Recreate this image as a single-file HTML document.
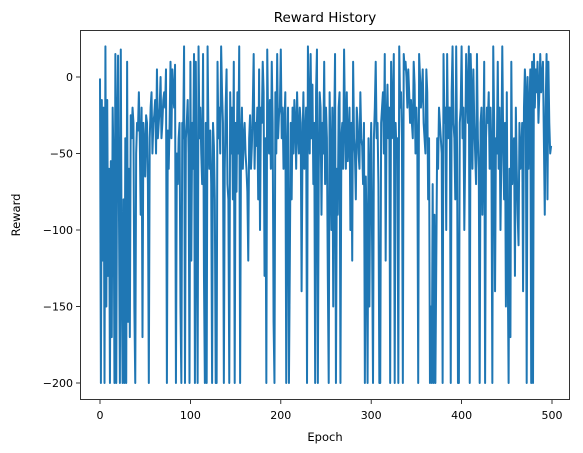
<!DOCTYPE html>
<html><head><meta charset="utf-8"><style>
html,body{margin:0;padding:0;background:#fff;}
svg{display:block;font-family:"DejaVu Sans","Liberation Sans",sans-serif;}
</style></head><body>
<svg id="chart" width="583" height="453">
<rect width="583" height="453" fill="#fff"/>
<text x="325" y="22" font-size="13.5" text-anchor="middle" fill="#000">Reward History</text>
<g id="axes"></g>
<g id="series"></g>
<rect x="80.5" y="30.5" width="489" height="369" fill="none" stroke="#000" stroke-width="0.8"/>
<text x="325" y="441" font-size="11.5" text-anchor="middle">Epoch</text>
<text x="20" y="215" font-size="11.5" text-anchor="middle" transform="rotate(-90 20 215)">Reward</text>
</svg>
<script>
const rewards = [
-1,-200,-15,-120,-20,-200,20,-150,-15,-130,
-60,-200,-55,-170,-20,-60,-200,15,-200,-30,
14,-90,-200,18,-130,-200,-80,-200,-40,-200,
10,-160,-60,-170,-25,-40,-20,-30,-150,-200,
-50,-30,-35,-10,-40,-90,-20,-170,-30,-45,
-65,-25,-30,-70,-200,-40,-20,-10,-50,-30,
-25,-15,-50,5,-40,-30,-20,0,-40,-30,
-15,-10,-20,5,-200,-35,-60,-30,10,-40,
5,-10,-20,8,-200,-50,-70,-40,-30,-150,
-200,-30,-40,20,-200,-40,-30,-15,-50,-200,
10,-120,-30,-60,15,-200,10,-90,-200,20,
-40,-20,-50,-70,15,-130,-200,-30,-200,20,
-40,-60,-35,-70,-200,-30,-45,-80,-200,-200,
10,-40,-20,-50,20,-10,-30,-200,-60,-20,
5,-70,-80,-200,-10,-50,-20,-80,10,-200,
-30,-75,-10,-50,20,-200,-40,-20,-60,-40,
-30,-50,-60,-75,-120,-40,-25,-60,-45,-20,
15,-60,-30,-45,-20,-80,5,-100,-20,-30,
10,-10,-130,-40,-200,18,-30,-50,-15,-60,
10,-30,-160,-200,-10,-50,15,-40,-25,-20,
18,-40,-20,-60,-30,-10,-200,-50,-20,-200,
-120,-30,-80,-20,-50,-15,-30,-60,-10,-35,
-50,-20,-30,-140,-45,-10,-60,-40,-20,-200,
20,-20,-50,15,-40,-5,-70,-30,-200,-10,
18,-200,-60,-10,-20,-90,-30,-50,10,-70,
-20,-40,-130,-200,-10,-50,-100,-20,-150,-40,
15,-200,-60,-90,-20,-10,-200,-40,-30,-60,
18,-30,-60,-10,-55,-40,-20,-100,-30,-120,
10,-40,-50,-80,-20,-30,-50,-60,-10,-40,
-45,-70,-30,-200,-65,-100,-200,-40,-150,-60,
-30,-110,-200,-40,-20,10,-40,-30,-70,-200,
-200,-30,-20,-10,-50,15,-120,-30,-5,-40,
-20,-200,10,-40,-20,15,-200,-30,-50,-40,
-200,20,-20,-10,-40,-200,15,5,10,0,
-20,5,-10,-30,-15,-30,-40,10,-5,-50,
-20,-40,-200,15,0,-20,-10,5,-30,-40,
-50,5,-10,-80,-40,-200,-150,-200,-70,-200,
-90,-200,-120,-40,-60,-20,-30,-40,-50,-200,
15,-30,-20,-100,15,-40,-20,-20,-200,-10,
20,-30,-40,-80,20,-50,-200,-200,-30,-20,
20,-40,-20,-100,-50,15,-10,-30,20,-200,
15,-10,-60,5,-30,-50,-70,15,-40,-60,
-200,-30,-20,-90,-50,10,-200,-40,-20,-30,
-10,-60,-20,-50,-200,20,-30,-140,-40,-50,
10,-60,-20,-100,-50,20,-40,-80,-30,-150,
-10,-120,-200,-60,-170,10,-70,-50,-40,-130,
-20,-60,-90,-110,-30,-60,-50,-30,-140,-20,
5,-10,-200,0,-60,-20,5,-200,10,-200,
15,-20,5,-10,10,-30,-10,15,-10,0,
10,-40,-90,-20,15,-80,10,-30,-50,-45
];
const xTicks = [0,100,200,300,400,500];
const yTicks = [0,-50,-100,-150,-200];
const yTickLabels = ["0","\u221250","\u2212100","\u2212150","\u2212200"];

const NS = "http://www.w3.org/2000/svg";
function xs(v){ return 100 + v * (552 - 100) / 500; }
function ys(v){ return 77 + (0 - v) * (383 - 77) / 200; }

const axes = document.getElementById('axes');
xTicks.forEach(t => {
  const l = document.createElementNS(NS,'line');
  l.setAttribute('x1', xs(t)); l.setAttribute('x2', xs(t));
  l.setAttribute('y1', 400); l.setAttribute('y2', 404);
  l.setAttribute('stroke','#000'); l.setAttribute('stroke-width','0.8');
  
  
  axes.appendChild(l);
  const tx = document.createElementNS(NS,'text');
  tx.setAttribute('x', xs(t)); tx.setAttribute('y', 419);
  tx.setAttribute('font-size','11'); tx.setAttribute('text-anchor','middle');
  tx.textContent = String(t);
  
  
  axes.appendChild(tx);
});
yTicks.forEach((t,i) => {
  const l = document.createElementNS(NS,'line');
  l.setAttribute('x1', 76); l.setAttribute('x2', 80);
  l.setAttribute('y1', ys(t)); l.setAttribute('y2', ys(t));
  l.setAttribute('stroke','#000'); l.setAttribute('stroke-width','0.8');
  
  
  axes.appendChild(l);
  const tx = document.createElementNS(NS,'text');
  tx.setAttribute('x', 73); tx.setAttribute('y', ys(t) + 4);
  tx.setAttribute('font-size','11'); tx.setAttribute('text-anchor','end');
  tx.textContent = yTickLabels[i];
  
  
  axes.appendChild(tx);
});

const series = document.getElementById('series');
const p = document.createElementNS(NS,'polyline');
p.setAttribute('points', rewards.map((v,i) => xs(i).toFixed(2) + ',' + ys(v).toFixed(2)).join(' '));
p.setAttribute('fill','none');
p.setAttribute('stroke','#1f77b4');
p.setAttribute('stroke-width','2');
p.setAttribute('stroke-linejoin','round');


series.appendChild(p);
</script>
</body></html>
